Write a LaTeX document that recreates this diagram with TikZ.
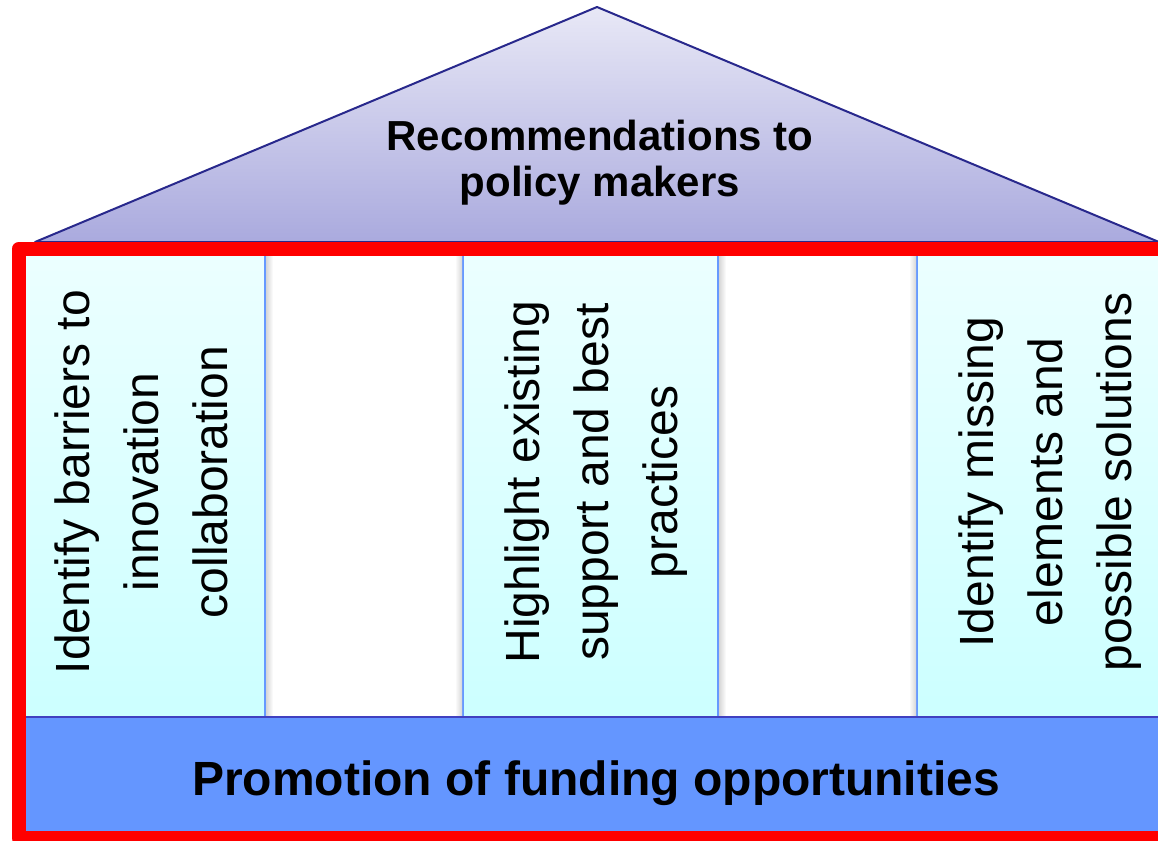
\documentclass[tikz,border=0pt]{standalone}
\usepackage{fontspec}
\setmainfont{Liberation Sans}
\definecolor{roofTop}{RGB}{232,232,246}
\definecolor{roofBot}{RGB}{170,170,222}
\definecolor{roofLine}{RGB}{40,40,140}
\definecolor{pillarTop}{RGB}{236,255,255}
\definecolor{pillarBot}{RGB}{204,255,255}
\definecolor{pillarLine}{RGB}{102,153,255}
\definecolor{baseFill}{RGB}{100,150,255}
\definecolor{baseLine}{RGB}{64,64,192}
\begin{document}
\begin{tikzpicture}[x=1pt, y=-1pt,
        pillar/.style={top color=pillarTop, bottom color=pillarBot},
        pillartext/.style={rotate=90, align=center, inner sep=0pt, font=\fontsize{48}{69}\selectfont},
        rooftext/.style={align=center, inner sep=0pt, font=\fontsize{42}{46}\selectfont\bfseries},
        basetext/.style={inner sep=0pt, font=\fontsize{48}{56}\selectfont\bfseries}]
        \useasboundingbox (0,0) rectangle (1158,840);
        \clip (0,0) rectangle (1158,840);

        % Roof
        \shadedraw[draw=roofLine, line width=2pt, line join=round, top color=roofTop, bottom color=roofBot]
            (35,242) -- (597,7) -- (1159,242) -- cycle;
        \node[rooftext] (roof) at (600,163) {Recommendations to\\policy makers};

        % Pillars
        \foreach \l/\r in {14/265, 463/718, 917/1175} {
            \shade[pillar] (\l,249) rectangle (\r,717);
            \draw[pillarLine, line width=2.5pt] (\l,249) -- (\l,717) (\r,249) -- (\r,717);
        }
        % Shadow in the gaps
        \foreach \a/\b in {265/463, 718/917} {
            \shade[left color=black!16, right color=white] (\a+1,256) rectangle (\a+8,717);
            \shade[left color=white, right color=black!16] (\b-8,256) rectangle (\b-1,717);
        }
        \node[pillartext] (barriers) at (141.5,482) {Identify barriers to\\innovation\\collaboration};
        \node[pillartext] (practices) at (596.5,482) {Highlight existing\\support and best\\practices};
        \node[pillartext] (missing) at (1050.5,482) {Identify missing\\elements and\\possible solutions};

        % Foundation
        \fill[baseFill] (14,717) rectangle (1175,838);
        \draw[baseLine, line width=2.5pt] (14,717) -- (1175,717);
        \node[basetext] (funding) at (596,783.5) {Promotion of funding opportunities};

        % Frame
        \draw[red, line width=14pt, line join=round] (18.5,249) rectangle (1176,838);
    \end{tikzpicture}
\end{document}
